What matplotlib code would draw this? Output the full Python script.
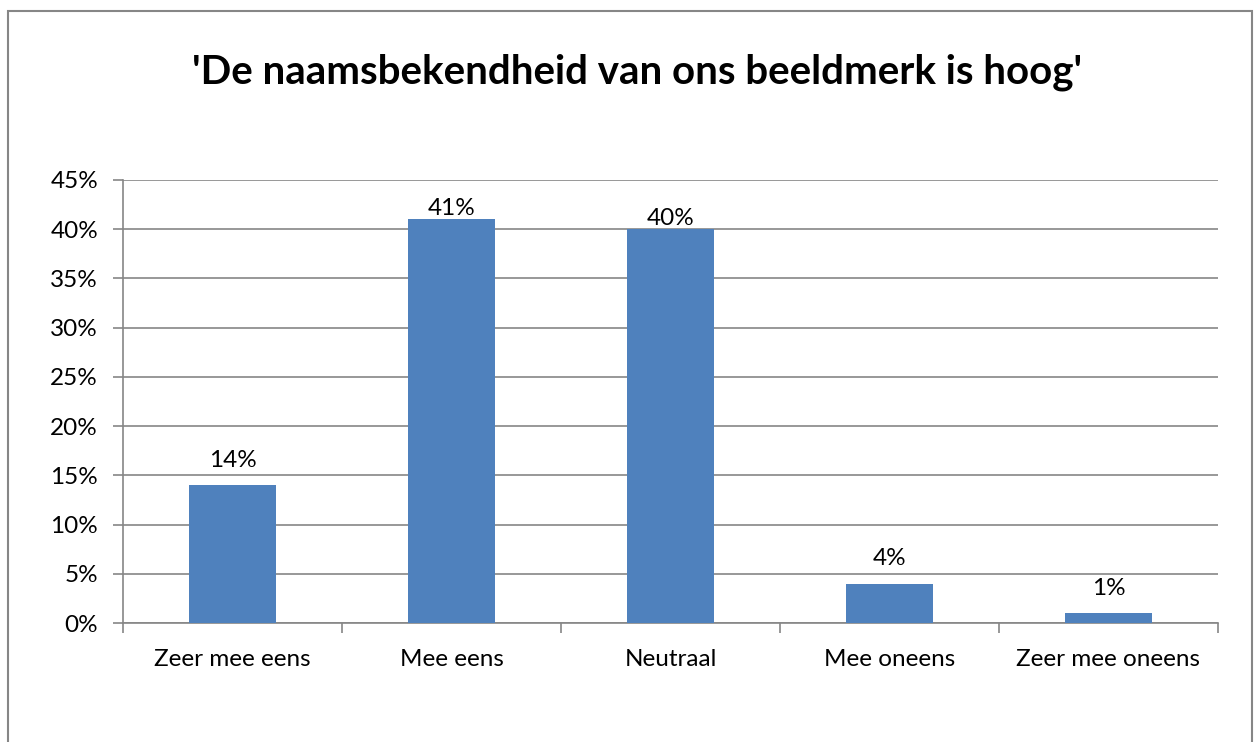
import matplotlib
matplotlib.use("Agg")
import matplotlib.pyplot as plt
from matplotlib.patches import Rectangle
from matplotlib.ticker import FuncFormatter, MultipleLocator

# Data
categories = ["Zeer mee eens", "Mee eens", "Neutraal", "Mee oneens", "Zeer mee oneens"]
values = [14, 41, 40, 4, 1]
title = "'De naamsbekendheid van ons beeldmerk is hoog'"

bar_color = "#4F81BD"
grid_color = "#868686"
y_max = 45

plt.rcParams["font.family"] = ["Lato", "DejaVu Sans"]

fig = plt.figure(figsize=(12.58, 7.42), dpi=100)
ax = fig.add_axes([123 / 1258, 1 - 623 / 742, (1218 - 123) / 1258, (623 - 180) / 742])

x = list(range(len(categories)))
ax.bar(x, values, width=0.4, color=bar_color, zorder=3)

# labels sit above the bar; near the top they get pushed down (like Excel)
for xi, v in zip(x, values):
    ly = v + 2.55 if v + 2.55 <= y_max - 2.95 else v + 1.06
    ax.text(xi, ly, f"{v}%", ha="center", va="center", fontsize=17.5, zorder=4)

ax.set_xlim(-0.5, len(categories) - 0.5)
ax.set_ylim(0, y_max)
ax.yaxis.set_major_locator(MultipleLocator(5))
ax.yaxis.set_major_formatter(FuncFormatter(lambda v, p: f"{v:.0f}%"))
ax.grid(axis="y", color=grid_color, linewidth=1.2, zorder=0)

ax.set_xticks(x)
ax.set_xticklabels(categories)
ax.set_xticks([i + 0.5 for i in range(-1, len(categories))], minor=True)
ax.tick_params(axis="x", which="major", length=0, pad=19, labelsize=17.5)
ax.tick_params(axis="x", which="minor", length=7, color=grid_color, width=1.2)
ax.tick_params(axis="y", length=7, color=grid_color, width=1.2, labelsize=17.5, pad=11)

for side in ["top", "right"]:
    ax.spines[side].set_visible(False)
for side in ["left", "bottom"]:
    ax.spines[side].set_color(grid_color)
    ax.spines[side].set_linewidth(1.2)

fig.text(637 / 1258, 1 - 72 / 742, title, ha="center", va="center",
         fontsize=29, fontweight="bold")

# outer chart border
fig.patches.append(Rectangle((8 / 1258, -0.05), (1252 - 8) / 1258, 1.05 - 11 / 742,
                             transform=fig.transFigure, fill=False,
                             edgecolor=grid_color, linewidth=1.5))

fig.savefig("out.png", dpi=100)
